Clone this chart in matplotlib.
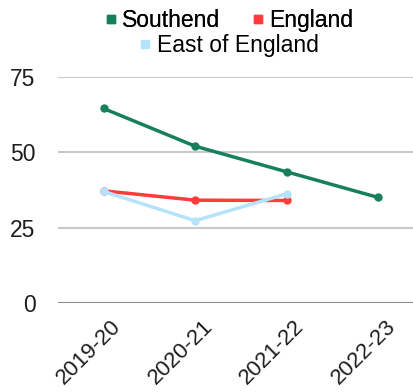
import matplotlib.pyplot as plt
import matplotlib.transforms as mtransforms
from matplotlib.lines import Line2D

plt.rcParams['font.family'] = ['Liberation Sans', 'DejaVu Sans']

years = ['2019-20', '2020-21', '2021-22', '2022-23']
southend = [64.5, 52, 43.5, 35]
england = [37.2, 34.1, 34]
east_of_england = [37, 27.3, 36.2]

green = '#16805a'
red = '#ff3b3b'
blue = '#b5e3fb'

fig = plt.figure(figsize=(4.13, 3.92), dpi=100)
ax = fig.add_axes([0.14, 0.227, 0.86, 0.577])

x = list(range(len(years)))
ax.plot(x[:3], england, color=red, lw=2.5, marker='o', ms=5, zorder=3)
ax.plot(x[:3], east_of_england, color=blue, lw=2.5, marker='o', ms=5, zorder=4)
ax.plot(x, southend, color=green, lw=2.5, marker='o', ms=5, zorder=5)

ax.set_ylim(0, 75)
ax.set_xlim(-0.5, 3.38)
ax.set_yticks([0, 25, 50, 75])
for v in [25, 50, 75]:
    ax.axhline(v, color='#c8c8c8', lw=1.5, zorder=1)
ax.axhline(0, color='#8a8a8a', lw=1.5, zorder=1)

ax.set_xticks(x)
ax.set_xticklabels(years, rotation=45, ha='right', va='top',
                   rotation_mode='anchor', fontsize=16)
ax.tick_params(axis='both', length=0, colors='#1e1e1e')
ax.tick_params(axis='y', labelsize=16.5, pad=16)
ax.tick_params(axis='x', pad=9)
# nudge the slanted year labels to the right of their ticks
shift = mtransforms.ScaledTranslation(0.07, 0, fig.dpi_scale_trans)
for lab in ax.get_xticklabels():
    lab.set_transform(lab.get_transform() + shift)
for s in ax.spines.values():
    s.set_visible(False)

def proxy(c):
    return Line2D([], [], color=c, marker='s', ls='none', ms=5.5)

leg1 = fig.legend([proxy(green), proxy(red)], ['Southend', 'England'],
                  ncol=2, loc='upper center', bbox_to_anchor=(0.552, 1.03),
                  frameon=False, fontsize=16.5, handletextpad=0.15,
                  columnspacing=1.3, handlelength=0.7)
leg2 = fig.legend([proxy(blue)], ['East of England'],
                  loc='upper center', bbox_to_anchor=(0.552, 0.967),
                  frameon=False, fontsize=16.5, handletextpad=0.15,
                  handlelength=0.7)
fig.add_artist(leg1)

fig.savefig('out.png', dpi=100)
